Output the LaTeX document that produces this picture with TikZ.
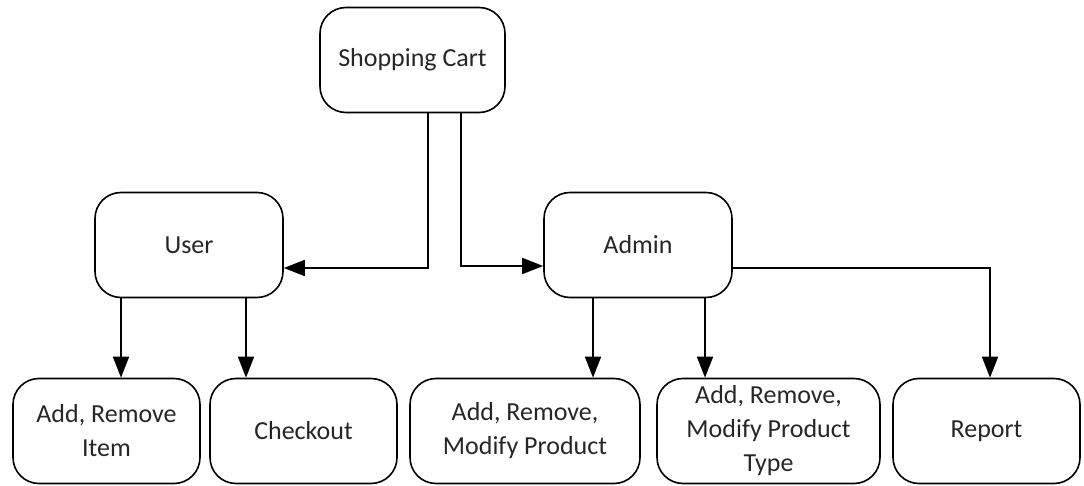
\documentclass[tikz,border=0pt]{standalone}
\usepackage{fontspec}
\setmainfont{Carlito}
\usetikzlibrary{arrows.meta}

\begin{document}
\begin{tikzpicture}[x=1pt,y=-1pt,line width=1.6pt,>={Triangle[length=21pt,width=16pt]}]
    \tikzstyle{box}=[draw,rounded corners=26pt,align=center,inner sep=2pt,
        minimum height=105pt,font=\fontsize{26}{34}\selectfont,text=black!85]
    \tikzstyle{link}=[->,draw=black]

    \useasboundingbox (0,0) rectangle (1084,486);

    % Top node
    \node[box,minimum width=185pt] (cart) at (412.5,60) {Shopping Cart};

    % Middle layer
    \node[box,minimum width=188pt] (user) at (189,245) {User};
    \node[box,minimum width=188pt] (admin) at (638,245) {Admin};

    % Bottom layer
    \node[box,minimum width=187pt] (item) at (106.5,431) {Add, Remove\\Item};
    \node[box,minimum width=187pt] (checkout) at (303.5,431) {Checkout};
    \node[box,minimum width=230pt] (product) at (525,431) {Add, Remove,\\Modify Product};
    \node[box,minimum width=223pt] (ptype) at (768.5,431) {Add, Remove,\\Modify Product\\Type};
    \node[box,minimum width=187pt] (report) at (986.5,431) {Report};

    % Cart to user and admin
    \draw[link] ([xshift=15.5pt]cart.south) |- ([yshift=-23pt]user.east);
    \draw[link] ([xshift=48.5pt]cart.south) |- ([yshift=-21pt]admin.west);

    % User to its tasks
    \draw[link] ([xshift=-68pt]user.south) -- ([xshift=-68pt]user.south |- item.north);
    \draw[link] ([xshift=57pt]user.south) -- ([xshift=57pt]user.south |- checkout.north);

    % Admin to its tasks
    \draw[link] ([xshift=-45pt]admin.south) -- ([xshift=-45pt]admin.south |- product.north);
    \draw[link] ([xshift=67pt]admin.south) -- ([xshift=67pt]admin.south |- ptype.north);
    \draw[link] ([yshift=-23pt]admin.east) -| ([xshift=3.5pt]report.north);
\end{tikzpicture}
\end{document}
